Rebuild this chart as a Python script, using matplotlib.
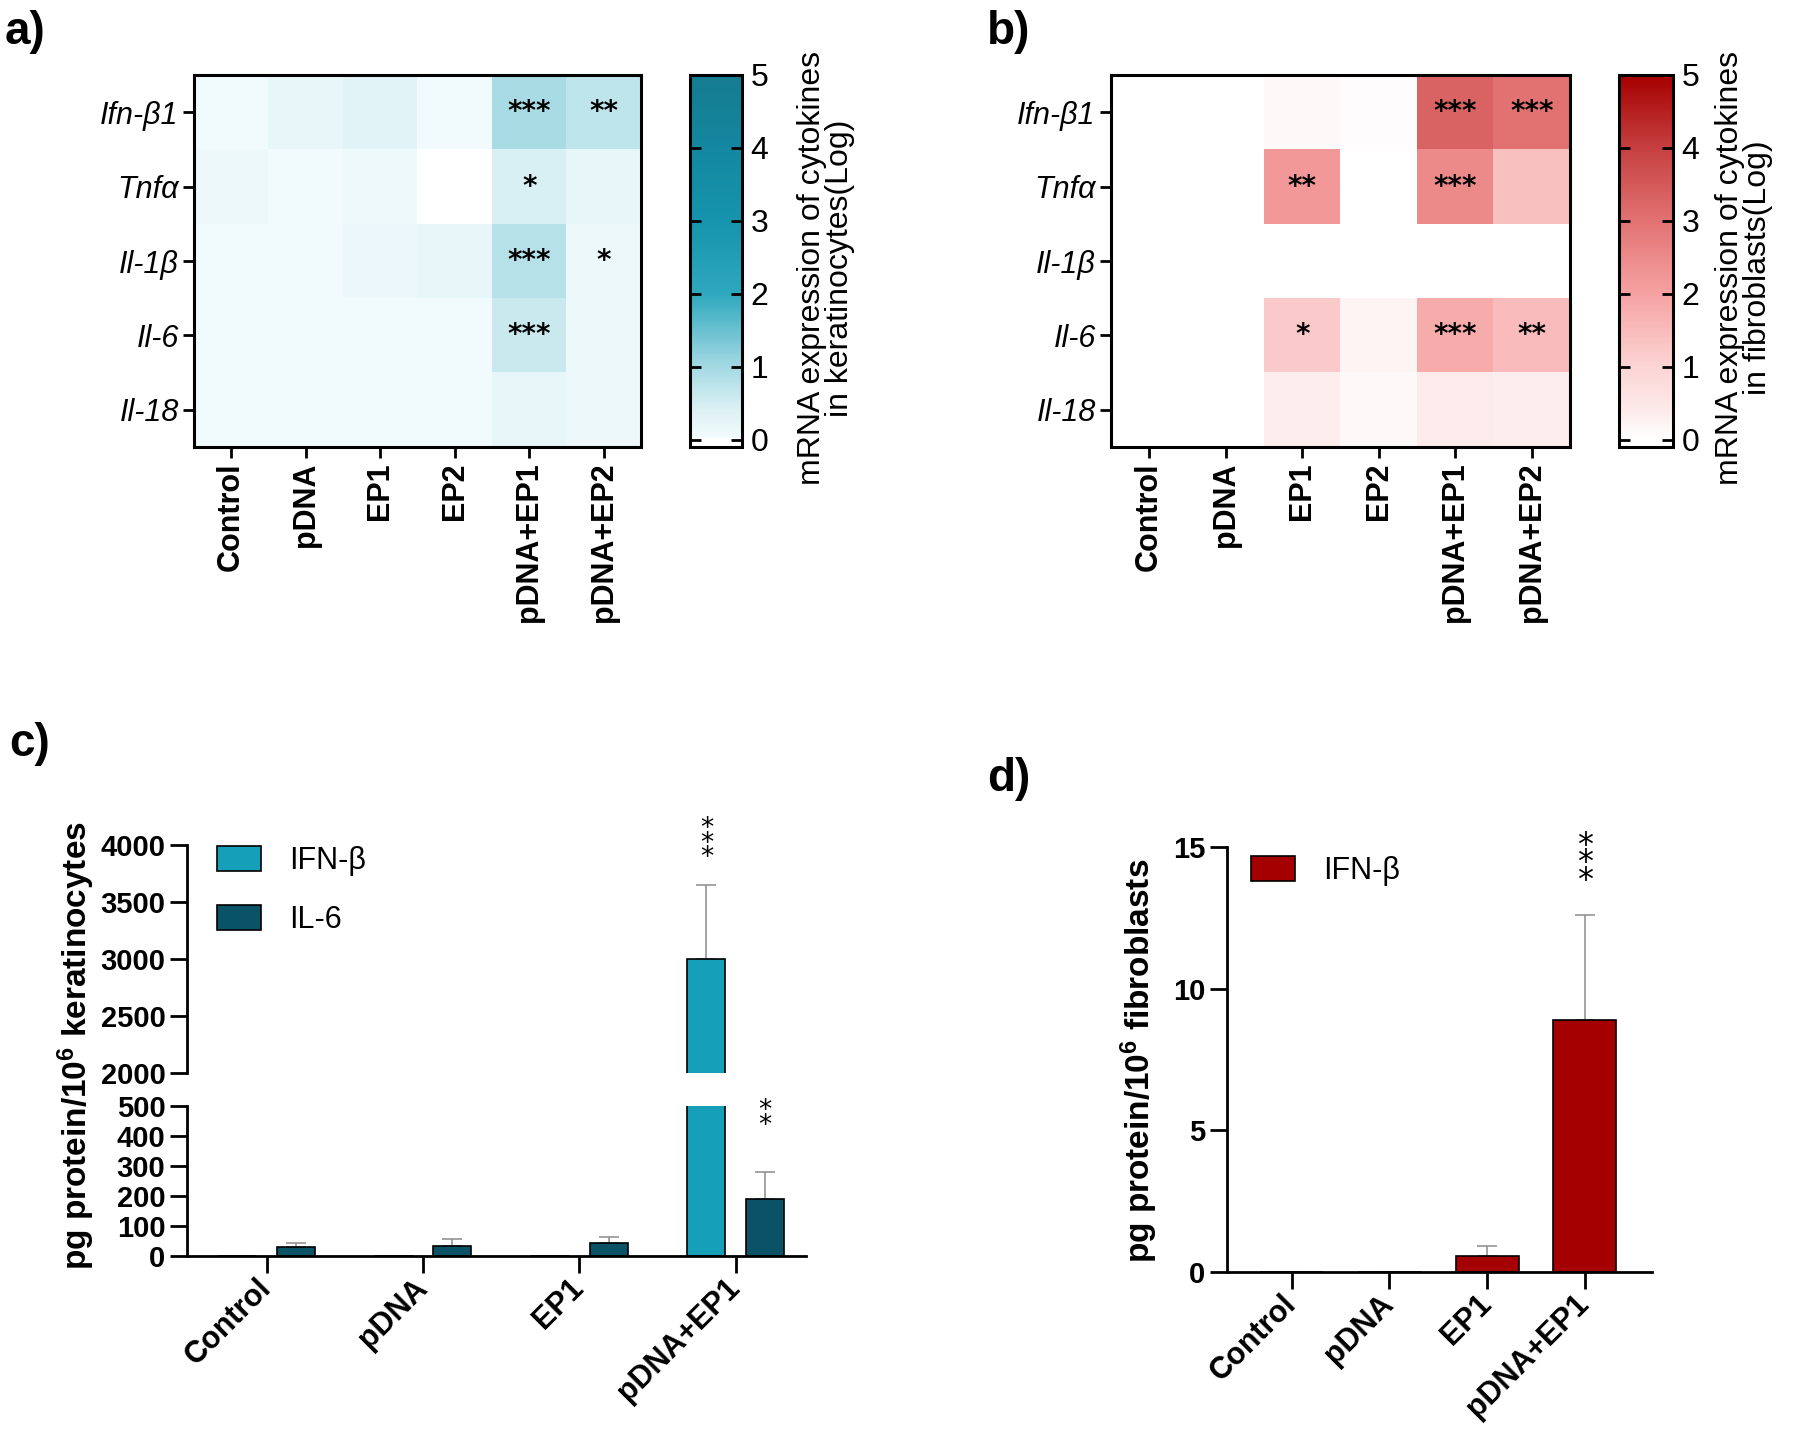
""" Cytokine mRNA heatmaps (a, b) and ELISA bar charts (c, d) """
import matplotlib
matplotlib.use("Agg")
import matplotlib.pyplot as plt
import numpy as np
from matplotlib.colors import LinearSegmentedColormap, Normalize
from matplotlib.patches import Patch

plt.rcParams['font.family'] = ['Liberation Sans', 'DejaVu Sans']
plt.rcParams['mathtext.fontset'] = 'custom'
plt.rcParams['mathtext.rm'] = 'Liberation Sans'
plt.rcParams['mathtext.bf'] = 'Liberation Sans:bold'
plt.rcParams['mathtext.it'] = 'Liberation Sans:italic'

# --- data for the heatmaps (log mRNA expression) ---
genes = ["Ifn-β1", "Tnfα", "Il-1β", "Il-6", "Il-18"]
groups = ["Control", "pDNA", "EP1", "EP2", "pDNA+EP1", "pDNA+EP2"]

kera_log = [[0.05, 0.20, 0.30, 0.05, 0.95, 0.70],
            [0.10, 0.05, 0.08, 0.00, 0.45, 0.20],
            [0.04, 0.04, 0.15, 0.20, 0.80, 0.12],
            [0.04, 0.04, 0.04, 0.04, 0.60, 0.10],
            [0.04, 0.04, 0.04, 0.04, 0.20, 0.10]]
kera_stars = [["", "", "", "", "***", "**"],
              ["", "", "", "", "*", ""],
              ["", "", "", "", "***", "*"],
              ["", "", "", "", "***", ""],
              ["", "", "", "", "", ""]]

fibro_log = [[0.0, 0.0, 0.10, 0.05, 3.30, 3.00],
             [0.0, 0.0, 2.20, 0.00, 2.50, 1.40],
             [0.0, 0.0, 0.00, 0.00, 0.00, 0.00],
             [0.0, 0.0, 1.20, 0.20, 1.80, 1.50],
             [0.0, 0.0, 0.35, 0.10, 0.40, 0.35]]
fibro_stars = [["", "", "", "", "***", "***"],
               ["", "", "**", "", "***", ""],
               ["", "", "", "", "", ""],
               ["", "", "*", "", "***", "**"],
               ["", "", "", "", "", ""]]

# --- data for the ELISA bars ---
elisa_groups = ["Control", "pDNA", "EP1", "pDNA+EP1"]
kera_ifn = [0, 0, 0, 3000]
kera_ifn_sd = [0, 0, 0, 650]
kera_ifn_sig = ["", "", "", "***"]
kera_il6 = [30, 35, 45, 190]
kera_il6_sd = [14, 21, 17, 90]
kera_il6_sig = ["", "", "", "**"]
fibro_ifn = [0, 0, 0.55, 8.9]
fibro_ifn_sd = [0, 0, 0.38, 3.7]
fibro_ifn_sig = ["", "", "", "***"]

# colour scale runs a little below 0 like the original colour bars
norm = Normalize(-0.1, 5)


def make_cmap(name, stops):
    """ stops given in data units -> colormap over norm """
    return LinearSegmentedColormap.from_list(name, [(float(norm(v)) if v > -0.1 else 0.0, c)
                                                    for v, c in stops])


teal_cmap = make_cmap("teal", [(-0.1, "#ffffff"), (0.0, "#ffffff"), (0.04, "#f1fafc"),
                               (0.4, "#dcf1f5"), (1, "#a3d9e3"), (2, "#2ea8be"),
                               (3, "#1594ad"), (4, "#1388a0"), (5, "#157b90")])
red_cmap = make_cmap("reds", [(-0.1, "#ffffff"), (0.0, "#ffffff"), (0.4, "#fdeaea"),
                              (1, "#fcd4d4"), (2, "#f6a2a2"), (3, "#e27272"),
                              (4, "#c64040"), (5, "#a60000")])
IFN_TEAL = "#169fb9"
IL6_TEAL = "#0a5367"
IFN_RED = "#a50000"
ERR_GRAY = "#8c8c8c"

W, H = 1800, 1444
fig = plt.figure(figsize=(W / 100, H / 100), dpi=100)


def px(left, top, right, bottom):
    """ pixel box -> figure rect """
    return [left / W, 1 - bottom / H, (right - left) / W, (bottom - top) / H]


def heatmap(box, cbox, vals, stars, cmap, cb_text, cb_x):
    ax = fig.add_axes(px(*box))
    im = ax.imshow(np.array(vals), cmap=cmap, norm=norm,
                   aspect="auto", interpolation="nearest")
    ax.set_xticks(range(len(groups)), groups, rotation=90, fontsize=22, fontweight="bold")
    ax.set_yticks(range(len(genes)), genes, fontsize=22, fontstyle="italic")
    ax.tick_params(length=8, width=2, pad=3, color="black")
    for s in ax.spines.values():
        s.set_linewidth(2.2)
    for r, row in enumerate(stars):
        for c, s in enumerate(row):
            if s:
                ax.text(c, r, s, ha="center", va="center", fontsize=20,
                        fontweight="bold", family="DejaVu Sans")
    cax = fig.add_axes(px(*cbox))
    cb = fig.colorbar(im, cax=cax, ticks=range(6))
    cb.outline.set_linewidth(2.2)
    cax.yaxis.set_ticks_position("both")
    cax.tick_params(direction="in", length=8, width=2, labelsize=23, pad=6,
                    labelleft=False, labelright=True)
    fig.text(cb_x / W, 1 - 268 / H, cb_text, rotation=90, ha="center", va="center",
             fontsize=23, linespacing=0.95, multialignment="center")


def bars(ax, xs, vals, sd, width, color):
    ax.bar(xs, vals, width, color=color, edgecolor="black", linewidth=1.2, zorder=2)
    ax.errorbar(xs, vals, yerr=[np.zeros(len(vals)), sd], fmt="none", ecolor=ERR_GRAY,
                elinewidth=1.1, capsize=7, capthick=1.1, zorder=1)


def stars_above(ax, xs, vals, sd, sig, offset, size=19):
    # stars stacked vertically above the error bar
    for xi, v, e, s in zip(xs, vals, sd, sig):
        if s:
            ax.annotate("\n".join(s), xy=(xi, v + e), xytext=(0, offset),
                        textcoords="offset points", ha="center", va="bottom",
                        fontsize=size, linespacing=0.42, family="DejaVu Sans",
                        annotation_clip=False)


def style_axis(ax):
    for side in ("top", "right"):
        ax.spines[side].set_visible(False)
    for side in ("left", "bottom"):
        ax.spines[side].set_linewidth(2)
    ax.tick_params(length=12, width=2, color="black")


# a) keratinocytes heatmap
heatmap((194, 75, 641, 447), (690, 75, 742, 447), kera_log, kera_stars, teal_cmap,
        "mRNA expression of cytokines\nin keratinocytes(Log)", 826)
# b) fibroblasts heatmap
heatmap((1111, 75, 1570, 447), (1619, 75, 1673, 447), fibro_log, fibro_stars, red_cmap,
        "mRNA expression of cytokines\nin fibroblasts(Log)", 1744)

# c) keratinocytes ELISA, broken y axis
x = np.arange(len(elisa_groups))
off, bw = 0.1875, 0.244
ax_hi = fig.add_axes(px(187, 845, 806, 1073))
ax_lo = fig.add_axes(px(187, 1106, 806, 1256))
for ax in (ax_hi, ax_lo):
    bars(ax, x - off, kera_ifn, kera_ifn_sd, bw, IFN_TEAL)
    bars(ax, x + off, kera_il6, kera_il6_sd, bw, IL6_TEAL)
    ax.set_xlim(-0.51, 3.45)
    style_axis(ax)
ax_hi.set_ylim(2000, 4000)
ax_hi.set_yticks(np.arange(2000, 4001, 500), [str(v) for v in range(2000, 4001, 500)],
                 fontsize=21, fontweight="bold")
ax_hi.spines["bottom"].set_visible(False)
ax_hi.set_xticks([])
ax_lo.set_ylim(0, 500)
ax_lo.set_yticks(np.arange(0, 501, 100), [str(v) for v in range(0, 501, 100)],
                 fontsize=21, fontweight="bold")
ax_lo.set_xticks(x, elisa_groups, rotation=45, ha="right", va="center",
                 rotation_mode="anchor", fontsize=22, fontweight="bold")
ax_lo.tick_params(axis="x", pad=8)
stars_above(ax_hi, x - off, kera_ifn, kera_ifn_sd, kera_ifn_sig, 10)
stars_above(ax_lo, x + off, kera_il6, kera_il6_sd, kera_il6_sig, 24)
fig.text(76 / W, 1 - 1046 / H, r"pg protein/10$^{\mathbf{6}}$ keratinocytes", rotation=90,
         ha="center", va="center", fontsize=24, fontweight="bold")
ax_hi.legend(handles=[Patch(facecolor=IFN_TEAL, edgecolor="black", linewidth=1.2, label="IFN-β"),
                      Patch(facecolor=IL6_TEAL, edgecolor="black", linewidth=1.2, label="IL-6")],
             loc="upper left", bbox_to_anchor=(217 / W, 1 - 846 / H),
             bbox_transform=fig.transFigure, frameon=False, fontsize=22,
             handlelength=1.45, handleheight=0.85, handletextpad=0.9,
             labelspacing=0.95, borderpad=0, borderaxespad=0)

# d) fibroblasts ELISA
ax_d = fig.add_axes(px(1227, 847, 1652, 1272))
bars(ax_d, x, fibro_ifn, fibro_ifn_sd, 0.645, IFN_RED)
style_axis(ax_d)
ax_d.set_xlim(-0.665, 3.69)
ax_d.set_ylim(0, 15)
ax_d.set_yticks([0, 5, 10, 15], ["0", "5", "10", "15"], fontsize=21, fontweight="bold")
ax_d.set_xticks(x, elisa_groups, rotation=45, ha="right", va="center",
                rotation_mode="anchor", fontsize=22, fontweight="bold")
ax_d.tick_params(axis="x", pad=8)
stars_above(ax_d, x, fibro_ifn, fibro_ifn_sd, fibro_ifn_sig, 14, size=23)
fig.text(1139 / W, 1 - 1061 / H, r"pg protein/10$^{\mathbf{6}}$ fibroblasts", rotation=90,
         ha="center", va="center", fontsize=24, fontweight="bold")
ax_d.legend(handles=[Patch(facecolor=IFN_RED, edgecolor="black", linewidth=1.2, label="IFN-β")],
            loc="upper left", bbox_to_anchor=(1251 / W, 1 - 856 / H),
            bbox_transform=fig.transFigure, frameon=False, fontsize=22,
            handlelength=1.45, handleheight=0.85, handletextpad=0.9,
            borderpad=0, borderaxespad=0)

# panel letters
for letter, lx, ly in [("a)", 5, 10), ("b)", 987, 10), ("c)", 9, 722), ("d)", 987, 757)]:
    fig.text(lx / W, 1 - ly / H, letter, fontsize=33, fontweight="bold", ha="left", va="top")

fig.savefig("out.png", dpi=100)
